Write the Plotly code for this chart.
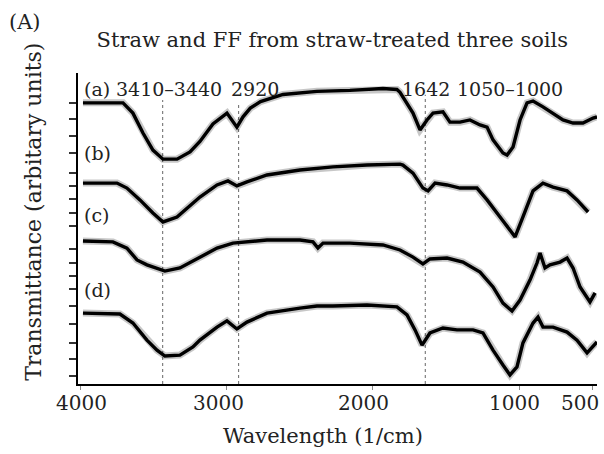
import plotly.graph_objects as go

# ---- data (wavenumber 1/cm, transmittance arbitrary units) ----
wn_a = [3986, 3712, 3644, 3575, 3507, 3438, 3342, 3253, 3185, 3096, 3000, 2932, 2890, 2840, 2770,
        2616, 2384, 2158, 1932, 1836, 1815, 1726, 1678, 1630, 1589, 1521, 1473, 1404, 1336, 1267,
        1219, 1178, 1110, 1082, 1041, 993, 945, 904, 836, 767, 699, 630, 562, 493, 466]
t_a = [90.4, 90.4, 87.1, 80.7, 75.2, 72.3, 72.3, 74.6, 78.0, 83.6, 87.1, 82.6, 85.9, 88.7, 90.8,
       93.1, 94.1, 94.4, 95.0, 94.7, 93.8, 87.1, 81.7, 84.9, 87.1, 87.5, 84.2, 84.2, 84.9, 83.3,
       82.6, 78.5, 74.3, 73.6, 76.2, 84.9, 90.4, 91.0, 89.1, 87.1, 84.9, 83.9, 83.9, 85.5, 85.9]

wn_b = [3986, 3753, 3685, 3596, 3507, 3438, 3342, 3233, 3185, 3068, 2993, 2932, 2863, 2726, 2500,
        2274, 2041, 1815, 1795, 1726, 1658, 1623, 1575, 1493, 1404, 1288, 1219, 1130, 1062, 1027,
        973, 904, 836, 767, 671, 603, 527]
t_b = [64.6, 64.6, 63.0, 59.2, 55.0, 52.1, 53.7, 58.2, 60.1, 64.0, 65.3, 63.7, 65.0, 67.2, 68.8,
       69.8, 70.4, 70.7, 70.4, 67.8, 63.0, 62.1, 64.6, 64.0, 63.0, 63.0, 59.2, 53.7, 49.5, 47.3,
       53.7, 62.1, 64.6, 63.3, 62.1, 59.2, 55.3]

wn_c = [3986, 3781, 3685, 3616, 3548, 3479, 3425, 3322, 3185, 3068, 2959, 2842, 2726, 2500, 2411,
        2377, 2342, 2158, 1932, 1815, 1726, 1658, 1610, 1493, 1384, 1267, 1178, 1110, 1048, 993,
        925, 877, 856, 822, 788, 719, 671, 630, 582, 514, 479]
t_c = [46.0, 45.7, 43.7, 39.9, 38.3, 37.3, 36.3, 37.3, 40.8, 43.7, 45.3, 45.7, 46.3, 46.3, 45.7,
       43.7, 45.3, 45.3, 44.7, 43.1, 40.8, 38.6, 40.2, 40.5, 39.2, 36.0, 31.2, 26.0, 23.5, 27.0,
       33.4, 38.9, 42.1, 37.3, 38.3, 39.2, 40.5, 37.3, 31.2, 26.4, 29.3]

wn_d = [3986, 3733, 3644, 3548, 3479, 3425, 3322, 3233, 3185, 3068, 3000, 2932, 2863, 2726, 2500,
        2384, 2274, 2041, 1836, 1767, 1712, 1664, 1610, 1521, 1425, 1315, 1247, 1178, 1110, 1062,
        1014, 973, 904, 870, 836, 767, 671, 603, 534, 500, 466]
t_d = [22.8, 22.5, 19.6, 14.1, 10.9, 9.0, 9.3, 11.9, 14.1, 18.3, 20.3, 17.7, 19.9, 22.8, 24.4,
       25.1, 25.1, 25.4, 24.8, 22.2, 17.4, 12.5, 16.4, 18.0, 17.4, 17.4, 16.4, 10.9, 6.1, 2.9,
       5.5, 13.2, 19.6, 21.5, 18.3, 18.3, 16.7, 14.1, 10.0, 11.9, 13.5]

series_labels = ["(a)", "(b)", "(c)", "(d)"]
label_levels = [94.9, 74.3, 54.3, 30.2]

marker_lines = [3440, 2920, 1642]
marker_tops = [91.3, 89.7, 93.0]
peak_texts = ["3410–3440", "2920", "1642", "1050–1000"]
peak_text_pos = [3767, 2979, 1808, 1432]

x_ticks = [4000, 3000, 2000, 1000, 500]
x_tick_labels = ["4000", "3000", "2000", "1000", "500"]
x_label_nudge = [1, -8, -9, -5, -12]   # px offsets of the labels, as in the reference
y_ticks = [90.5, 85.2, 79.7, 74.4, 67.9, 63.7, 59.5, 55.1, 50.8, 43.4, 39.0, 34.7,
           30.5, 25.1, 19.3, 13.3, 8.0, 2.6]

FONT = "DejaVu Serif"
fig = go.Figure()

for wn, t in [(wn_a, t_a), (wn_b, t_b), (wn_c, t_c), (wn_d, t_d)]:
    fig.add_trace(go.Scatter(x=wn, y=t, mode="lines",
                             line=dict(color="rgba(0,0,0,0.22)", width=7),
                             hoverinfo="skip", showlegend=False))
    fig.add_trace(go.Scatter(x=wn, y=t, mode="lines",
                             line=dict(color="black", width=3.4),
                             showlegend=False))

for xv, top in zip(marker_lines, marker_tops):
    fig.add_shape(type="line", xref="x", yref="y", x0=xv, x1=xv, y0=0, y1=top,
                  line=dict(color="#666", width=1, dash="dot"), layer="below")

for lab, lev in zip(series_labels, label_levels):
    fig.add_annotation(x=3990, y=lev, xref="x", yref="y", text=lab, showarrow=False,
                       xanchor="left", yanchor="middle",
                       font=dict(family=FONT, size=19, color="#222"))

for txt, xp in zip(peak_texts, peak_text_pos):
    fig.add_annotation(x=xp, y=label_levels[0], xref="x", yref="y", text=txt, showarrow=False,
                       xanchor="left", yanchor="middle", borderpad=0,
                       font=dict(family=FONT, size=19, color="#222"))

# tick labels of the x axis
for xv, txt, dx in zip(x_ticks, x_tick_labels, x_label_nudge):
    fig.add_annotation(x=xv, y=-0.061, xref="x", yref="paper", text=txt, showarrow=False,
                       xanchor="center", yanchor="middle", xshift=dx,
                       font=dict(family=FONT, size=20, color="#222"))

fig.add_annotation(x=-0.137, y=1.163, xref="paper", yref="paper", text="(A)", showarrow=False,
                   xanchor="left", yanchor="middle", font=dict(family=FONT, size=21, color="#222"))
fig.add_annotation(x=-0.087, y=0.553, xref="paper", yref="paper",
                   text="Transmittance (arbitary units)", showarrow=False, textangle=-90,
                   xanchor="center", yanchor="middle", font=dict(family=FONT, size=22, color="#222"))
fig.add_annotation(x=0.472, y=-0.167, xref="paper", yref="paper",
                   text="Wavelength (1/cm)", showarrow=False,
                   xanchor="center", yanchor="middle", font=dict(family=FONT, size=21, color="#222"))

fig.update_layout(
    width=604, height=454,
    margin=dict(l=78, r=7, t=73, b=70, autoexpand=False),
    paper_bgcolor="white", plot_bgcolor="white",
    title=dict(text="Straw and FF from straw-treated three soils", x=0.49, xref="paper",
               xanchor="center", y=1 - 40 / 454, yanchor="middle",
               font=dict(family=FONT, size=21, color="#222")),
    xaxis=dict(range=[4020, 466], tickvals=x_ticks, showticklabels=False,
               showgrid=False, zeroline=False, showline=True, linecolor="black", linewidth=2,
               ticks="outside", ticklen=4, tickwidth=1, tickcolor="#888", automargin=False),
    yaxis=dict(range=[0, 100], tickvals=y_ticks, showticklabels=False, automargin=False,
               showgrid=False, zeroline=False, showline=True, linecolor="black", linewidth=2,
               ticks="outside", ticklen=7, tickwidth=1.5, tickcolor="#333"),
)

fig.write_html("out.html")
